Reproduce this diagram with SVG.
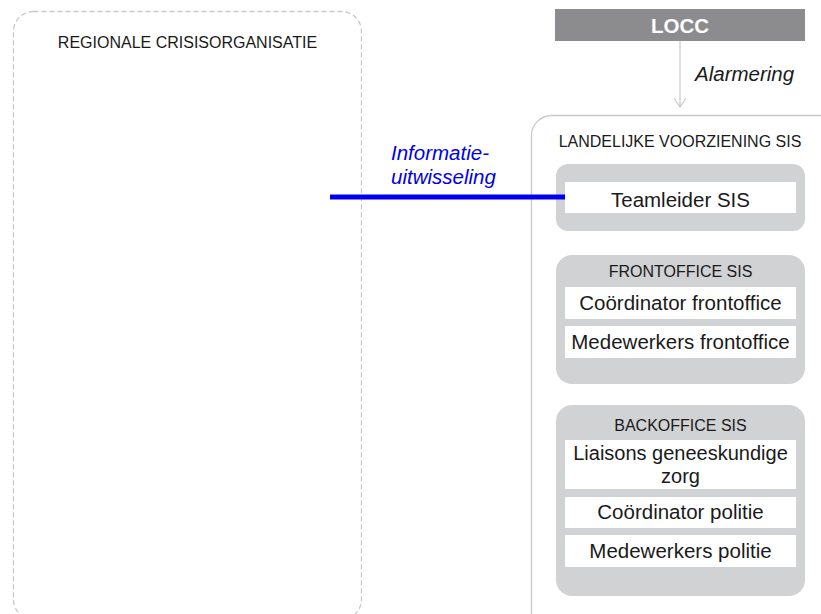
<svg xmlns="http://www.w3.org/2000/svg" width="821" height="614" viewBox="0 0 821 614">
<defs>
<style>
text{font-family:"Liberation Sans",Arial,sans-serif;fill:#1a1a1a;text-anchor:middle}
.hdr{font-size:16px}
.lbl{font-size:20.5px}
.grp{fill:#d1d2d4}
.cell{fill:#ffffff}
</style>
<marker id="open" markerWidth="20" markerHeight="12" refX="10" refY="6" orient="auto" markerUnits="userSpaceOnUse">
<path d="M1,0 L10,6 L1,12" fill="none" stroke="#c8c8c8" stroke-width="1.2"/>
</marker>
</defs>
<rect width="821" height="614" fill="#ffffff"/>
<g id="regionale">
<rect x="13.5" y="11.5" width="348" height="608" rx="20" fill="none" stroke="#c8c8c8" stroke-width="1.3" stroke-dasharray="5,3"/>
<text class="hdr" x="187.5" y="48">REGIONALE CRISISORGANISATIE</text>
</g>
<g id="landelijke">
<rect x="531.5" y="115.5" width="310" height="520" rx="20" fill="none" stroke="#c8c8c8" stroke-width="1.3"/>
<text class="hdr" x="680" y="146.5">LANDELIJKE VOORZIENING SIS</text>
</g>
<g id="locc">
<rect x="555" y="9" width="250" height="32" fill="#8c8c8e"/>
<text x="680" y="33" style="font-size:20.5px;font-weight:bold;fill:#ffffff">LOCC</text>
</g>
<g id="teamleider">
<rect class="grp" x="556" y="164" width="249" height="67" rx="12"/>
<rect class="cell" x="565" y="182" width="231" height="31"/>
<text class="lbl" x="680.5" y="206.5">Teamleider SIS</text>
</g>
<g id="frontoffice">
<rect class="grp" x="556" y="255" width="249" height="129" rx="16"/>
<text class="hdr" x="680.5" y="276.5">FRONTOFFICE SIS</text>
<rect class="cell" x="565" y="287" width="231" height="32"/>
<text class="lbl" x="680.5" y="309.5">Coördinator frontoffice</text>
<rect class="cell" x="565" y="326" width="231" height="32"/>
<text class="lbl" x="680.5" y="348.5">Medewerkers frontoffice</text>
</g>
<g id="backoffice">
<rect class="grp" x="556" y="405" width="249" height="191" rx="16"/>
<text class="hdr" x="680.5" y="430.5">BACKOFFICE SIS</text>
<rect class="cell" x="565" y="440" width="231" height="49"/>
<text class="lbl" x="680.5" y="460" style="font-size:20px">Liaisons geneeskundige</text>
<text class="lbl" x="680.5" y="483" style="font-size:20px">zorg</text>
<rect class="cell" x="565" y="497" width="231" height="31"/>
<text class="lbl" x="680.5" y="519">Coördinator politie</text>
<rect class="cell" x="565" y="535" width="231" height="32"/>
<text class="lbl" x="680.5" y="557.5">Medewerkers politie</text>
</g>
<g id="connectors">
<line x1="680" y1="41" x2="680" y2="107" stroke="#c8c8c8" stroke-width="1.2" marker-end="url(#open)"/>
<text class="lbl" x="695" y="81" style="font-style:italic;text-anchor:start">Alarmering</text>
<line x1="330" y1="197" x2="565" y2="197" stroke="#0000ee" stroke-width="5"/>
<text class="lbl" x="391" y="159.5" style="font-style:italic;text-anchor:start;fill:#0000ee">Informatie-</text>
<text class="lbl" x="391" y="183.5" style="font-style:italic;text-anchor:start;fill:#0000ee">uitwisseling</text>
</g>
</svg>
